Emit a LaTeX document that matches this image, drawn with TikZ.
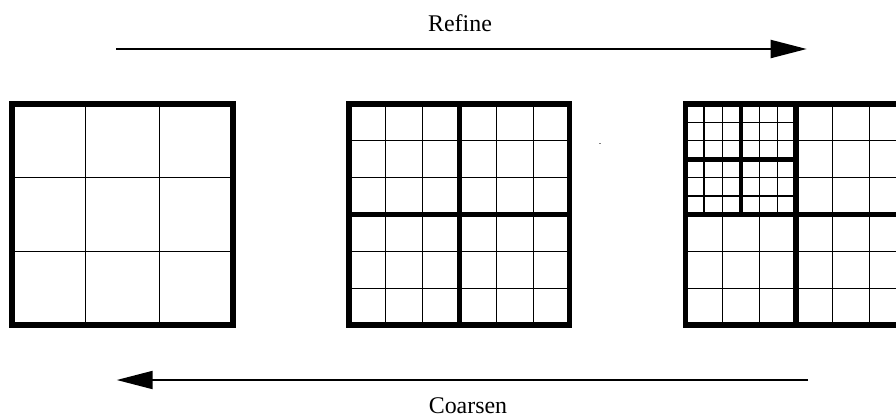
\documentclass[tikz,border=0pt]{standalone}
\usepackage{fontspec}
\setmainfont{Liberation Serif}
\usetikzlibrary{arrows.meta}
\newcommand\gridthree[3]{%
  \foreach \i in {1,2} {
    \draw[thin grid] ({#1+\i*#3/3},#2) -- ({#1+\i*#3/3},{#2+#3});
    \draw[thin grid] (#1,{#2+\i*#3/3}) -- ({#1+#3},{#2+\i*#3/3});
  }}
\begin{document}
\begin{tikzpicture}[x=1bp,y=-1bp,
  thin grid/.style={line width=1.3bp},
  thick grid/.style={line width=5.5bp, line join=miter},
  mid grid/.style={line width=4.5bp},
  flow/.style={line width=2bp,-{Triangle[length=36bp,width=18bp]}},
  lbl/.style={font=\fontsize{24}{28}\selectfont, inner sep=0pt}]
\useasboundingbox (0,0) rectangle (896,417);
\clip (0,0) rectangle (896,417);
\fill[white] (0,0) rectangle (896,417);

% Grid 1
\gridthree{12}{104}{221}
\draw[thick grid] (12,104) rectangle (233,325);

% Grid 2
\gridthree{349}{104}{110.5}
\gridthree{459.5}{104}{110.5}
\gridthree{349}{214.5}{110.5}
\gridthree{459.5}{214.5}{110.5}
\draw[thick grid] (459.5,104) -- (459.5,325);
\draw[thick grid] (349,214.5) -- (569.5,214.5);
\draw[thick grid] (349,104) rectangle (569.5,325);

% Grid 3
\gridthree{796}{104}{110.5}
\gridthree{685.5}{214.5}{110.5}
\gridthree{796}{214.5}{110.5}
\gridthree{685.5}{104}{55.25}
\gridthree{740.75}{104}{55.25}
\gridthree{685.5}{159.25}{55.25}
\gridthree{740.75}{159.25}{55.25}
\draw[mid grid] (740.75,104) -- (740.75,214.5);
\draw[mid grid] (685.5,159.25) -- (796,159.25);
\draw[thick grid] (796,104) -- (796,325);
\draw[thick grid] (685.5,214.5) -- (906,214.5);
\draw[thick grid] (685.5,104) rectangle (906,325);

% stray dot
\fill[gray] (599,142.5) rectangle (601,143.5);

% Arrows and labels
\coordinate (r1) at (116,49);
\coordinate (r2) at (806.7,49);
\draw[flow] (r1) -- (r2);
\node[lbl, anchor=base] (refine) at (460,31) {Refine};

\coordinate (c1) at (808,380);
\coordinate (c2) at (116.7,380);
\draw[flow] (c1) -- (c2);
\node[lbl, anchor=base] (coarsen) at (468,413) {Coarsen};
\end{tikzpicture}
\end{document}
